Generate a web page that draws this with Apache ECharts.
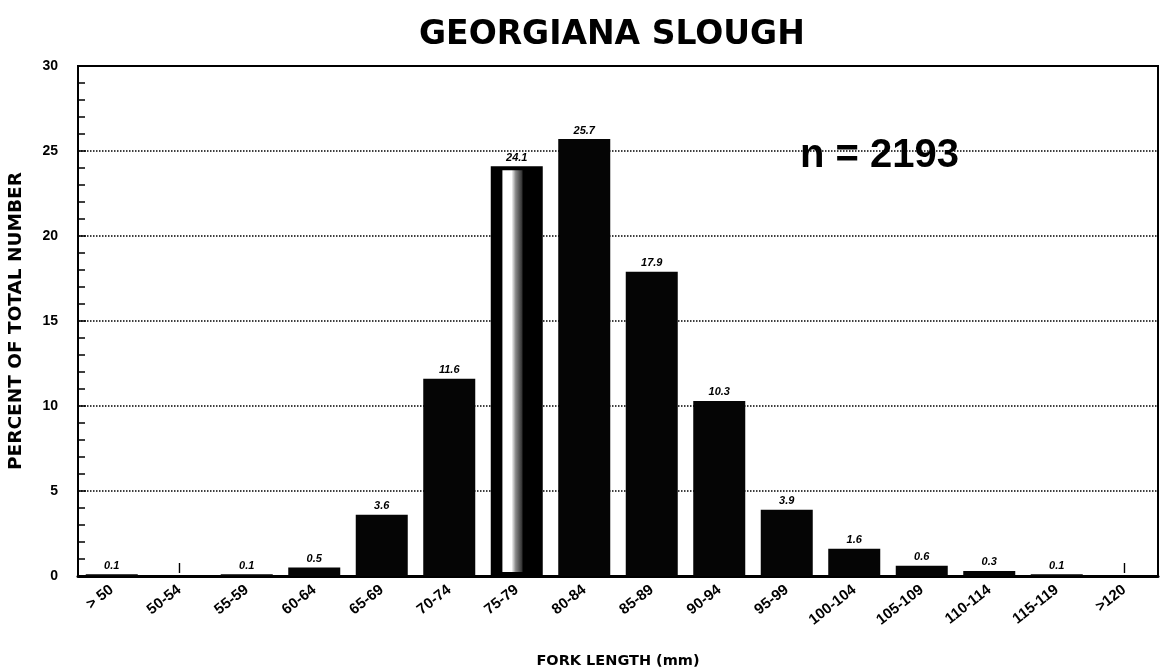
<!DOCTYPE html>
<html>
<head>
<meta charset="utf-8">
<script src="https://cdn.jsdelivr.net/npm/echarts@6/dist/echarts.min.js"></script>
<style>
  html, body { margin: 0; padding: 0; background: #fff; }
  #main { width: 1164px; height: 669px; }
</style>
</head>
<body>
<div id="main"></div>
<script>
const categories = ['> 50', '50-54', '55-59', '60-64', '65-69', '70-74', '75-79', '80-84',
  '85-89', '90-94', '95-99', '100-104', '105-109', '110-114', '115-119', '>120']
const percent = [0.1, 0, 0.1, 0.5, 3.6, 11.6, 24.1, 25.7, 17.9, 10.3, 3.9, 1.6, 0.6, 0.3, 0.1, 0]
const yTicks = [0, 5, 10, 15, 20, 25, 30]
const sampleSize = 2193

const font = 'Liberation Sans'
const wideFont = 'DejaVu Sans'

const chartDom = document.getElementById('main')
const myChart = echarts.init(chartDom)

// the 75-79 bar is drawn hollow in the original, black frame with a white stripe
const hollowBar = {
  type: 'linear', x: 0, y: 0, x2: 1, y2: 0,
  colorStops: [
    { offset: 0, color: '#000' },
    { offset: 0.22, color: '#000' },
    { offset: 0.23, color: '#fff' },
    { offset: 0.4, color: '#fff' },
    { offset: 0.48, color: '#888' },
    { offset: 0.6, color: '#333' },
    { offset: 0.62, color: '#000' },
    { offset: 1, color: '#000' }
  ]
}

const barData = percent.map(function (v, i) {
  const item = { value: v }
  if (categories[i] === '75-79') {
    item.itemStyle = { color: hollowBar, borderColor: '#000', borderWidth: 4 }
  }
  return item
})

const option = {
  animation: false,
  backgroundColor: '#fff',
  title: {
    text: 'GEORGIANA SLOUGH',
    left: 414,
    top: 14,
    textStyle: { fontFamily: wideFont, fontWeight: 'bold', fontSize: 33, color: '#000' }
  },
  graphic: [
    {
      type: 'text',
      left: 800,
      top: 136,
      style: {
        text: 'n = ' + sampleSize,
        font: 'bold 40px ' + font,
        fill: '#000'
      }
    }
  ],
  grid: {
    left: 78,
    right: 6,
    top: 66,
    bottom: 93,
    outerBoundsMode: 'none',
    show: true,
    borderColor: '#000',
    borderWidth: 2
  },
  xAxis: {
    type: 'category',
    data: categories,
    name: 'FORK LENGTH (mm)',
    nameLocation: 'middle',
    nameGap: 78,
    nameTextStyle: { fontFamily: wideFont, fontWeight: 'bold', fontSize: 14.5, color: '#000' },
    axisLine: { lineStyle: { color: '#000', width: 3 } },
    axisTick: { show: false },
    axisLabel: {
      interval: 0,
      rotate: 38,
      margin: 12,
      fontFamily: font,
      fontWeight: 'bold',
      fontSize: 15,
      color: '#000'
    }
  },
  yAxis: {
    type: 'value',
    min: yTicks[0],
    max: yTicks[yTicks.length - 1],
    interval: 5,
    name: 'PERCENT OF TOTAL NUMBER',
    nameLocation: 'middle',
    nameGap: 52,
    nameTextStyle: { fontFamily: wideFont, fontWeight: 'bold', fontSize: 18.5, color: '#000' },
    axisLine: { show: true, lineStyle: { color: '#000', width: 2 } },
    axisTick: { show: true, inside: true, length: 8, lineStyle: { color: '#000', width: 1.5 } },
    minorTick: { show: true, splitNumber: 5, length: 7, lineStyle: { color: '#000', width: 1.5 } },
    axisLabel: {
      margin: 20,
      fontFamily: font,
      fontWeight: 'bold',
      fontSize: 14,
      color: '#000'
    },
    splitLine: { show: true, lineStyle: { color: '#000', type: 'dotted', width: 1.5 } }
  },
  series: [
    {
      name: 'percent',
      type: 'bar',
      data: barData,
      barWidth: 52,
      itemStyle: { color: '#050505' },
      label: {
        show: true,
        position: 'top',
        distance: 3,
        fontFamily: font,
        fontStyle: 'italic',
        fontWeight: 'bold',
        fontSize: 11,
        color: '#000',
        formatter: function (p) {
          // empty classes are only marked with a short stroke in the original
          return p.value > 0 ? p.value.toFixed(1) : '|'
        }
      }
    }
  ]
}

myChart.setOption(option)
</script>
</body>
</html>
